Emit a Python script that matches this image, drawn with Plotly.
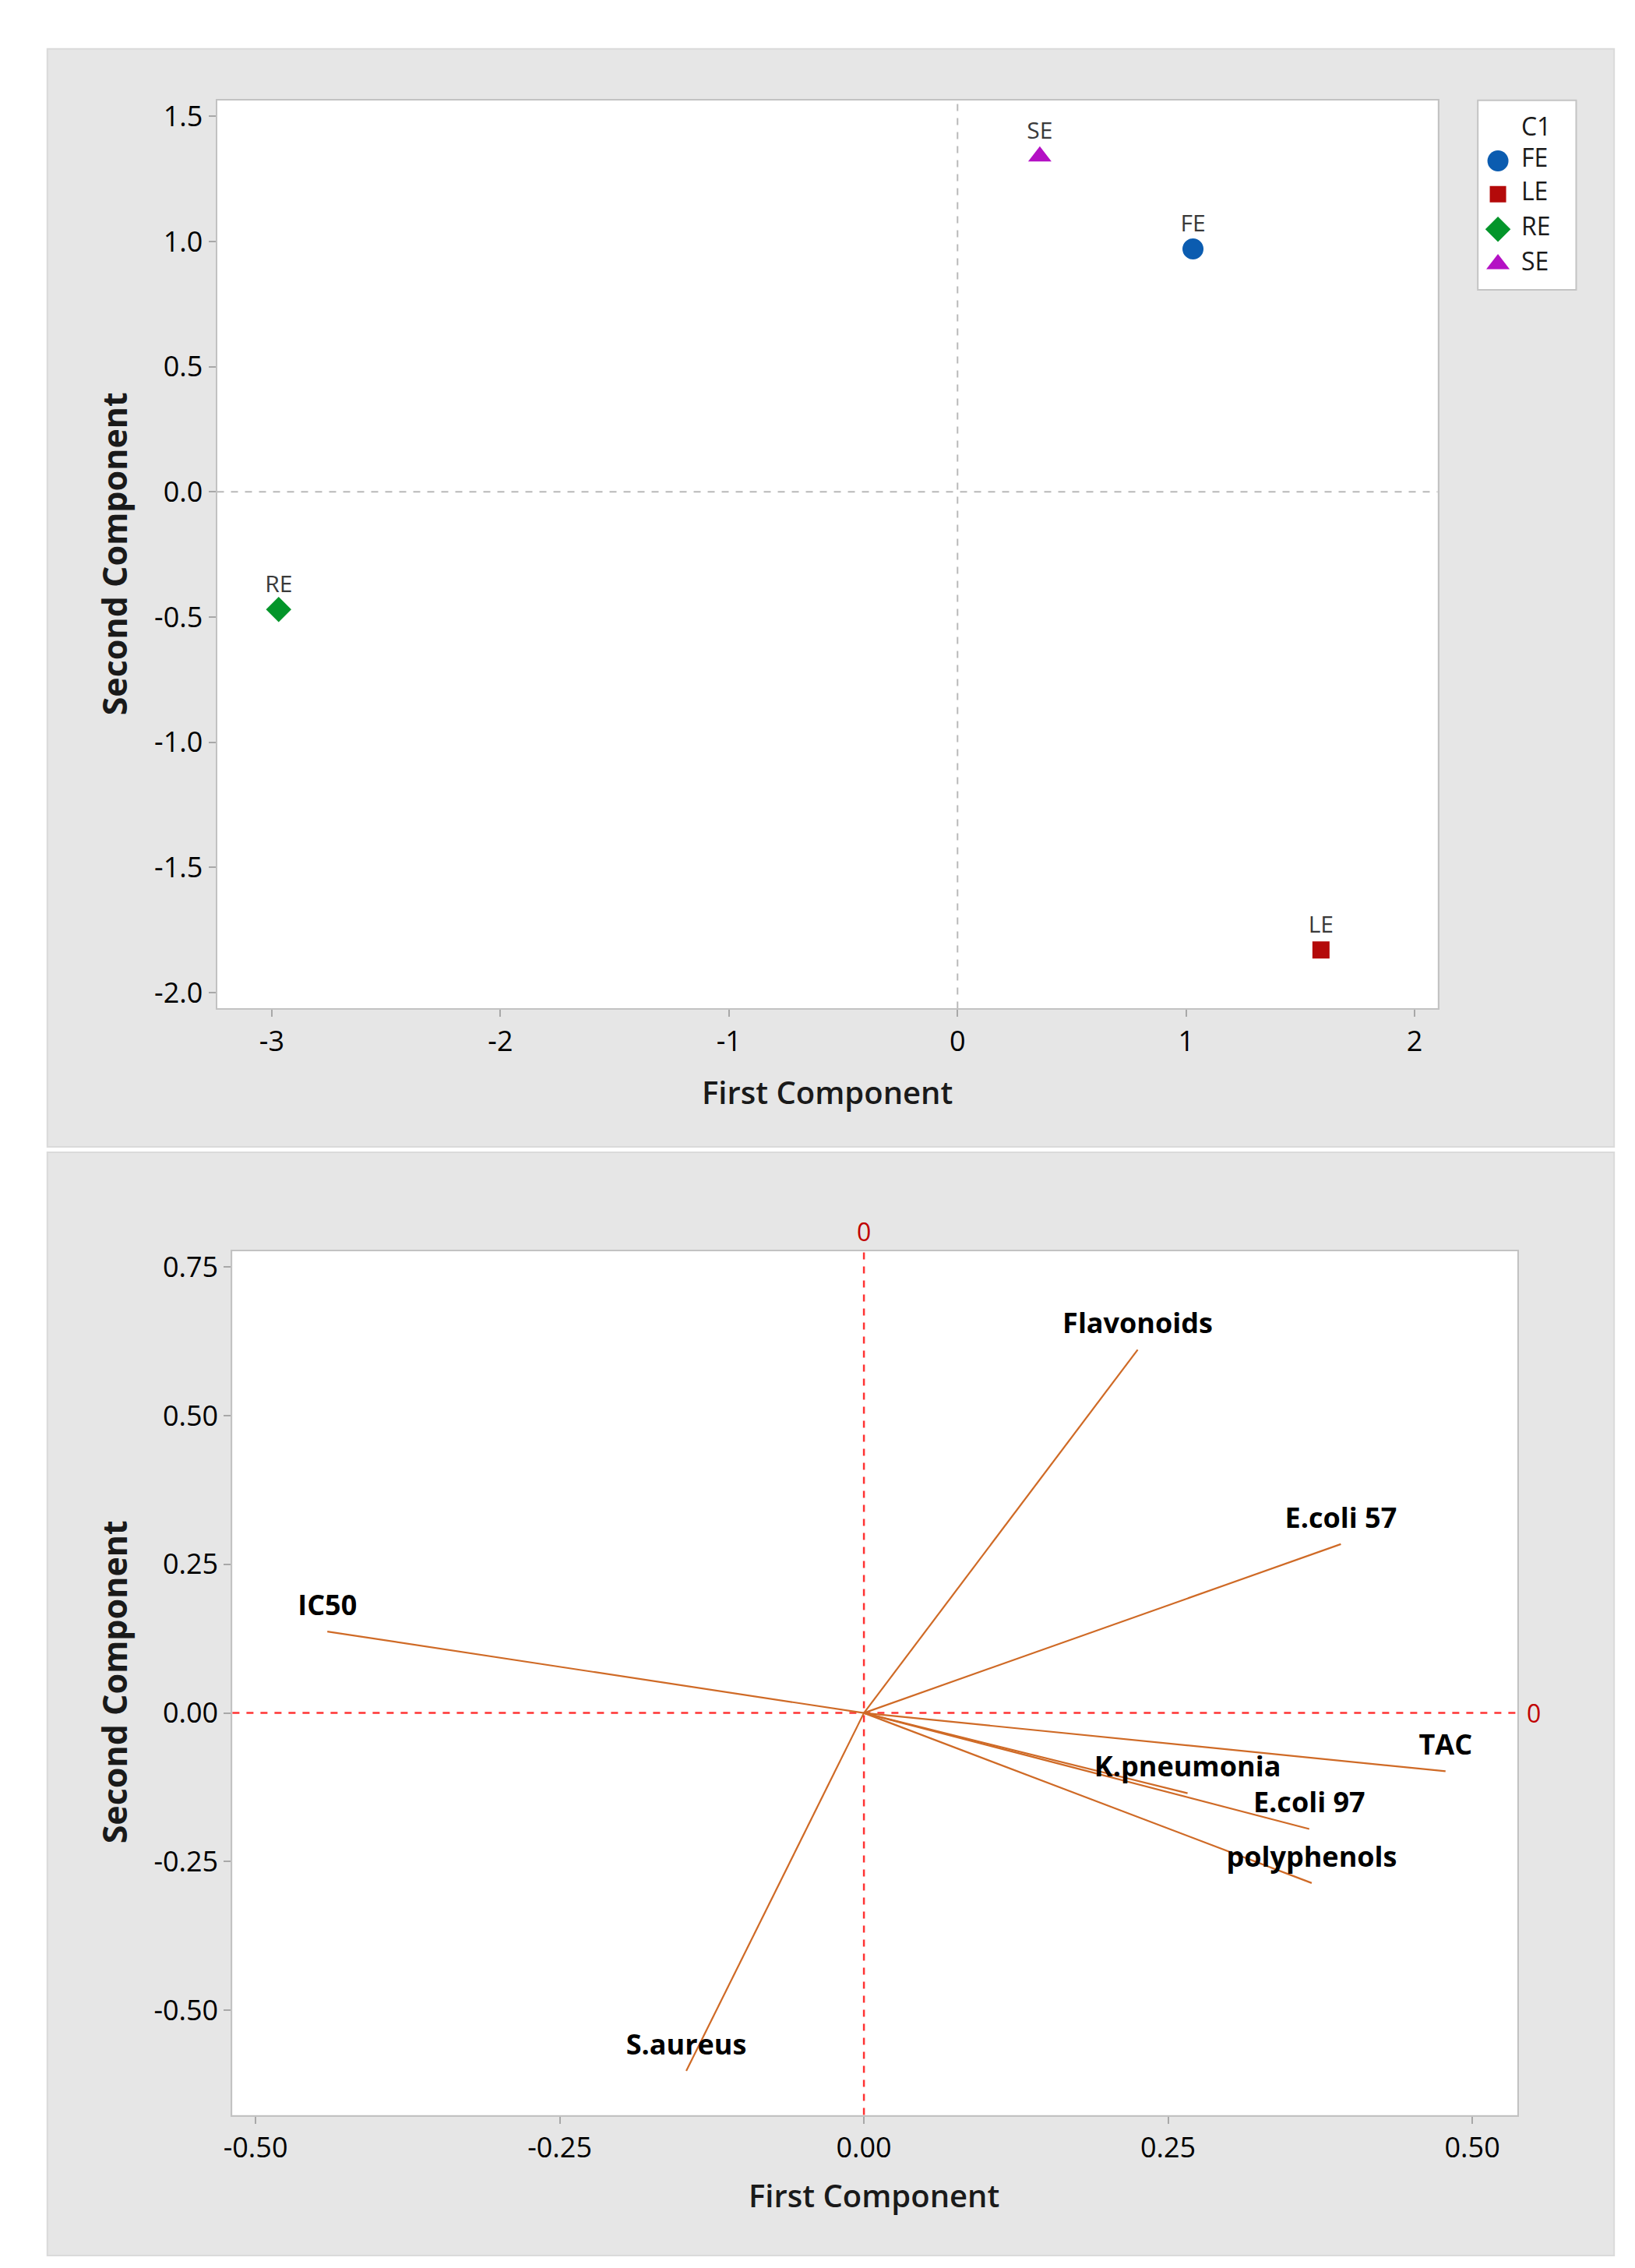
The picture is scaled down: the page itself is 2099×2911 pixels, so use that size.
import plotly.graph_objects as go

# ---------------- data ----------------
groups = ["FE", "LE", "RE", "SE"]
pc1_scores = [1.03, 1.59, -2.97, 0.36]
pc2_scores = [0.97, -1.83, -0.47, 1.34]
group_colors = ["#0b5cb0", "#b40a0a", "#03952a", "#b410c4"]
group_symbols = ["circle", "square", "diamond", "triangle-up"]
group_sizes = [27, 22, 25, 26]
legend_title = "C1"

variables = ["Flavonoids", "E.coli 57", "IC50", "TAC", "K.pneumonia",
             "E.coli 97", "polyphenols", "S.aureus"]
pc1_load = [0.225, 0.392, -0.441, 0.478, 0.266, 0.366, 0.368, -0.146]
pc2_load = [0.611, 0.284, 0.137, -0.098, -0.135, -0.195, -0.286, -0.602]

top_xticks = [-3, -2, -1, 0, 1, 2]
top_xticktext = ["-3", "-2", "-1", "0", "1", "2"]
top_yticks = [-2.0, -1.5, -1.0, -0.5, 0.0, 0.5, 1.0, 1.5]
top_yticktext = ["-2.0", "-1.5", "-1.0", "-0.5", "0.0", "0.5", "1.0", "1.5"]
bot_xticks = [-0.5, -0.25, 0.0, 0.25, 0.5]
bot_xticktext = ["-0.50", "-0.25", "0.00", "0.25", "0.50"]
bot_yticks = [-0.5, -0.25, 0.0, 0.25, 0.5, 0.75]
bot_yticktext = ["-0.50", "-0.25", "0.00", "0.25", "0.50", "0.75"]

W, H = 2099, 2911
FONT = "Open Sans"
TICKFONT = dict(family=FONT, size=36, color="#000000")


def px(x):
    return x / W


def py(y):
    return 1 - y / H


fig = go.Figure()

# ---- top: score plot ----
for g, x, y, c, s, sz in zip(groups, pc1_scores, pc2_scores, group_colors,
                             group_symbols, group_sizes):
    fig.add_trace(go.Scatter(
        x=[x], y=[y], mode="markers", name=g, showlegend=False,
        marker=dict(color=c, symbol=s, size=sz, opacity=1,
                    line=dict(width=0)),
        xaxis="x", yaxis="y"))
fig.add_trace(go.Scatter(
    x=pc1_scores, y=pc2_scores, mode="markers+text", text=groups,
    textposition="top center", showlegend=False, hoverinfo="skip",
    marker=dict(size=22, opacity=0),
    textfont=dict(family=FONT, size=30, color="#3a3a3a"),
    xaxis="x", yaxis="y"))

# ---- legend box (own small axis, units = pixels inside the box) ----
LEG_X0, LEG_X1, LEG_Y0, LEG_Y1 = 1888, 2015, 116, 360
leg_rows = [78, 121, 166, 211]
fig.add_trace(go.Scatter(
    x=[26] * len(groups), y=leg_rows, mode="markers", showlegend=False,
    hoverinfo="skip",
    marker=dict(color=group_colors, symbol=group_symbols,
                size=[27, 21, 25, 26], opacity=1, line=dict(width=0)),
    xaxis="x3", yaxis="y3"))
fig.add_trace(go.Scatter(
    x=[56] * (len(groups) + 1), y=[37] + leg_rows, mode="text",
    text=[legend_title] + groups, textposition="middle right",
    showlegend=False, hoverinfo="skip",
    textfont=dict(family=FONT, size=32, color="#1a1a1a"),
    xaxis="x3", yaxis="y3"))

# ---- bottom: loading plot ----
for v, x, y in zip(variables, pc1_load, pc2_load):
    fig.add_trace(go.Scatter(
        x=[0, x], y=[0, y], mode="lines", showlegend=False,
        line=dict(color="#cf6a26", width=2.2),
        xaxis="x2", yaxis="y2", hoverinfo="skip"))
fig.add_trace(go.Scatter(
    x=pc1_load, y=pc2_load, mode="markers+text", text=variables,
    textposition="top center", showlegend=False, hoverinfo="skip",
    marker=dict(size=18, opacity=0),
    textfont=dict(family=FONT, size=36, color="#000000", weight="bold"),
    xaxis="x2", yaxis="y2"))

axis_common = dict(
    showgrid=False, zeroline=False, showline=True, mirror=True,
    linecolor="#c2c2c2", linewidth=2, ticks="outside", ticklen=9,
    tickwidth=2, tickcolor="#a8a8a8", tickfont=TICKFONT,
)
hidden_axis = dict(visible=False, showgrid=False, zeroline=False,
                   fixedrange=True)

title_font = dict(family=FONT, size=40, color="#1a1a1a", weight=600)
vtitle_font = dict(family=FONT, size=43, color="#1a1a1a", weight=700)

fig.update_layout(
    width=W, height=H,
    margin=dict(l=0, r=0, t=0, b=0),
    paper_bgcolor="white", plot_bgcolor="white",
    font=dict(family=FONT),
    showlegend=False,
    xaxis=dict(axis_common, domain=[px(260), px(1836)], anchor="y",
               range=[-3.24, 2.10], tickvals=top_xticks,
               ticktext=top_xticktext),
    yaxis=dict(axis_common, domain=[py(1285), py(116)], anchor="x",
               range=[-2.064, 1.564], tickvals=top_yticks,
               ticktext=top_yticktext),
    xaxis2=dict(axis_common, domain=[px(280), px(1939)], anchor="y2",
                range=[-0.519, 0.537], tickvals=bot_xticks,
                ticktext=bot_xticktext),
    yaxis2=dict(axis_common, domain=[py(2709), py(1597)], anchor="x2",
                range=[-0.676, 0.777], tickvals=bot_yticks,
                ticktext=bot_yticktext),
    xaxis3=dict(hidden_axis, domain=[px(LEG_X0), px(LEG_X1)], anchor="y3",
                range=[0, LEG_X1 - LEG_X0]),
    yaxis3=dict(hidden_axis, domain=[py(LEG_Y1), py(LEG_Y0)], anchor="x3",
                range=[LEG_Y1 - LEG_Y0, 0]),
    shapes=[
        # panel backgrounds
        dict(type="rect", xref="paper", yref="paper", layer="below",
             x0=px(41), x1=px(2064), y0=py(1463), y1=py(50),
             fillcolor="#e6e6e6", line=dict(color="#dadada", width=2)),
        dict(type="rect", xref="paper", yref="paper", layer="below",
             x0=px(41), x1=px(2064), y0=py(2890), y1=py(1470),
             fillcolor="#e6e6e6", line=dict(color="#dadada", width=2)),
        # white plotting areas
        dict(type="rect", xref="x domain", yref="y domain", layer="below",
             x0=0, x1=1, y0=0, y1=1, fillcolor="white", line=dict(width=0)),
        dict(type="rect", xref="x2 domain", yref="y2 domain", layer="below",
             x0=0, x1=1, y0=0, y1=1, fillcolor="white", line=dict(width=0)),
        # legend box
        dict(type="rect", xref="x3 domain", yref="y3 domain", layer="below",
             x0=0, x1=1, y0=0, y1=1, fillcolor="white",
             line=dict(color="#c4c4c4", width=2)),
        # top reference lines
        dict(type="line", xref="x", yref="y domain", x0=0, x1=0, y0=0, y1=1,
             line=dict(color="#b9b9b9", width=2, dash="dash"), layer="below"),
        dict(type="line", xref="x domain", yref="y", x0=0, x1=1, y0=0, y1=0,
             line=dict(color="#b9b9b9", width=2, dash="dash"), layer="below"),
        # bottom reference lines
        dict(type="line", xref="x2", yref="y2 domain", x0=0, x1=0, y0=0, y1=1,
             line=dict(color="#ff3333", width=2.5, dash="dash"), layer="below"),
        dict(type="line", xref="x2 domain", yref="y2", x0=0, x1=1, y0=0, y1=0,
             line=dict(color="#ff3333", width=2.5, dash="dash"), layer="below"),
    ],
    annotations=[
        dict(text="First Component", xref="paper", yref="paper",
             x=px(1048), y=py(1392), xanchor="center", yanchor="middle",
             showarrow=False, font=title_font),
        dict(text="Second Component", xref="paper", yref="paper",
             x=px(127), y=py(700), xanchor="center", yanchor="middle",
             showarrow=False, textangle=-90, font=vtitle_font),
        dict(text="First Component", xref="paper", yref="paper",
             x=px(1108), y=py(2812), xanchor="center", yanchor="middle",
             showarrow=False, font=title_font),
        dict(text="Second Component", xref="paper", yref="paper",
             x=px(127), y=py(2152), xanchor="center", yanchor="middle",
             showarrow=False, textangle=-90, font=vtitle_font),
        dict(text="0", xref="x2", yref="y2 domain", x=0, y=1,
             xanchor="center", yanchor="bottom", yshift=2, showarrow=False,
             font=dict(family=FONT, size=32, color="#c00000")),
        dict(text="0", xref="x2 domain", yref="y2", x=1, y=0,
             xanchor="left", yanchor="middle", xshift=10, showarrow=False,
             font=dict(family=FONT, size=32, color="#c00000")),
    ],
)

fig.write_html("out.html")
